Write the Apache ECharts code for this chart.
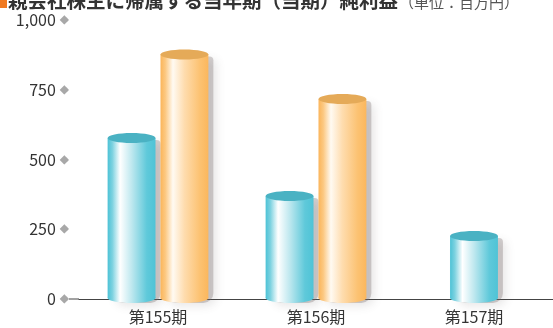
<!DOCTYPE html>
<html>
<head>
<meta charset="utf-8">
<script src="https://cdn.jsdelivr.net/npm/echarts@6/dist/echarts.min.js"></script>
<style>
html,body{margin:0;padding:0;background:#fff;}
#main{width:553px;height:328px;}
</style>
</head>
<body>
<div id="main"></div>
<script>
const categories = ['第155期', '第156期', '第157期'];
const cyanValues = [577, 369, null];
const orangeValues = [876, 717, null];
const singleValues = [null, null, 226];
const yTicks = [0, 250, 500, 750, 1000];
const titleText = '親会社株主に帰属する当年期（当期）純利益';
const unitText = '（単位：百万円）';

const FONT = '"Noto Sans CJK JP", "Noto Sans", sans-serif';

function grad(c) {
  return new echarts.graphic.LinearGradient(0, 0, 1, 0, [
    {offset: 0, color: c[0]},
    {offset: 0.1, color: c[1]},
    {offset: 0.26, color: c[2]},
    {offset: 0.5, color: c[3]},
    {offset: 0.82, color: c[4]},
    {offset: 1, color: c[5]}
  ]);
}
const cyanStops = ['#4cc2d6', '#7dd2e0', '#ffffff', '#bfe8ef', '#5fc9da', '#4fc3d6'];
const orangeStops = ['#fbb55a', '#fcc881', '#fffaf2', '#fedcae', '#fcc272', '#fbb75d'];

function makeRender(stops, topColor, sign) {
  return function (params, api) {
    const cat = api.value(0);
    const val = api.value(1);
    const band = api.size([1, 0])[0];
    const w = band * 0.303;
    const off = sign * (w / 2 + 2.5);
    const top = api.coord([cat, val]);
    const base = api.coord([cat, 0]);
    const cx = top[0] + off;
    const ry = 5;
    const baseY = base[1] - 1;
    return {
      type: 'group',
      children: [
        {
          type: 'rect',
          shape: {x: cx - w / 2 + 5, y: top[1] + 2, width: w, height: baseY - top[1] + 3, r: [4, 4, 10, 10]},
          style: {fill: 'rgba(120,110,110,0.32)', shadowBlur: 10, shadowColor: 'rgba(90,80,80,0.45)', shadowOffsetX: 3, shadowOffsetY: 3}
        },
        {
          type: 'ellipse',
          shape: {cx: cx, cy: baseY, rx: w / 2, ry: ry},
          style: {fill: grad(stops)}
        },
        {
          type: 'rect',
          shape: {x: cx - w / 2, y: top[1], width: w, height: baseY - top[1]},
          style: {fill: grad(stops)}
        },
        {
          type: 'ellipse',
          shape: {cx: cx, cy: top[1], rx: w / 2, ry: ry},
          style: {fill: topColor}
        }
      ]
    };
  };
}

function toData(arr) {
  const out = [];
  arr.forEach((v, i) => { if (v != null) out.push([i, v]); });
  return out;
}

const chart = echarts.init(document.getElementById('main'), null, {renderer: 'canvas'});
chart.setOption({
  animation: false,
  grid: {left: 79, top: 20, width: 480, bottom: 29, containLabel: false},
  xAxis: {
    type: 'category',
    data: categories,
    axisLine: {show: true, lineStyle: {color: '#444', width: 1}},
    axisTick: {show: false},
    axisLabel: {color: '#333', fontSize: 16, fontFamily: FONT, margin: 10}
  },
  yAxis: {
    type: 'value',
    min: yTicks[0],
    max: yTicks[yTicks.length - 1],
    interval: 250,
    splitLine: {show: false},
    axisLine: {show: false},
    axisTick: {show: false},
    axisLabel: {
      margin: 10,
      formatter: function (v) { return '{n|' + v.toLocaleString('en-US') + '}{d|◆}'; },
      rich: {
        n: {color: '#333', fontSize: 16, fontFamily: FONT},
        d: {color: '#a8a8a8', fontSize: 12, fontFamily: '"DejaVu Sans", sans-serif', padding: [0, 0, 0, 4]}
      }
    }
  },
  graphic: [
    {type: 'line', shape: {x1: 69, y1: 299, x2: 79, y2: 299}, style: {stroke: '#444', lineWidth: 1}},
    {type: 'rect', shape: {x: 0, y: 0, width: 7, height: 8}, style: {fill: '#f07a22'}},
    {type: 'text', x: 8, y: 10, style: {text: titleText, fill: '#333', font: 'bold 19.5px ' + FONT, textVerticalAlign: 'bottom'}},
    {type: 'text', x: 399, y: 10, style: {text: unitText, fill: '#555', font: '15px ' + FONT, textVerticalAlign: 'bottom'}}
  ],
  series: [
    {type: 'custom', renderItem: makeRender(cyanStops, '#4ab2c3', -1), data: toData(cyanValues), encode: {x: 0, y: 1}, z: 2},
    {type: 'custom', renderItem: makeRender(orangeStops, '#e5aa58', 1), data: toData(orangeValues), encode: {x: 0, y: 1}, z: 3},
    {type: 'custom', renderItem: makeRender(cyanStops, '#4ab2c3', 0), data: toData(singleValues), encode: {x: 0, y: 1}, z: 2}
  ]
});
</script>
</body>
</html>
